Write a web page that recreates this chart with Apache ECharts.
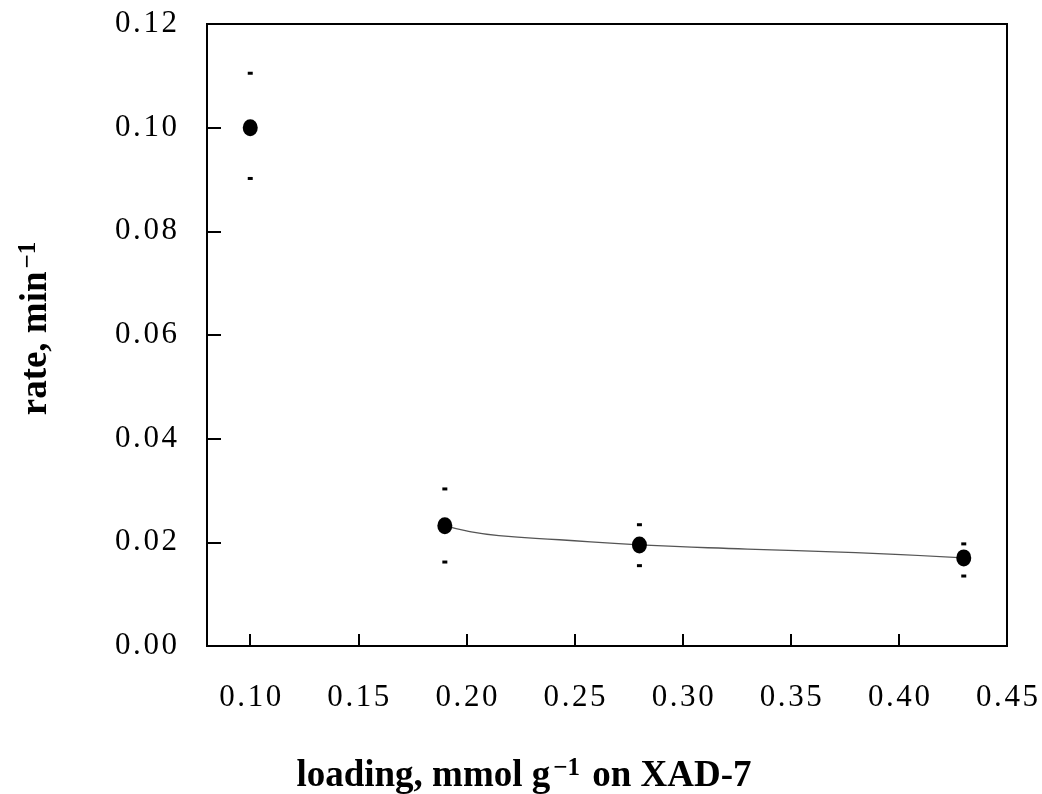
<!DOCTYPE html>
<html>
<head>
<meta charset="utf-8">
<script src="https://cdn.jsdelivr.net/npm/echarts@6/dist/echarts.min.js"></script>
<style>html,body{margin:0;padding:0;background:#fff}#c{width:1042px;height:794px}</style>
</head>
<body>
<div id="c"></div>
<script>
// data
var loading = [0.10, 0.19, 0.28, 0.43];
var rate = [0.1000, 0.0232, 0.0195, 0.0170];
var errHigh = [0.1105, 0.0303, 0.0234, 0.0197];
var errLow = [0.0902, 0.0162, 0.0155, 0.0135];
var fitX = [0.19, 0.20, 0.215, 0.243, 0.28, 0.33, 0.38, 0.43];
var fitY = [0.0232, 0.0222, 0.0213, 0.0205, 0.0195, 0.0187, 0.0180, 0.0170];
var xTicks = [0.10, 0.15, 0.20, 0.25, 0.30, 0.35, 0.40, 0.45];
var yTicks = [0.00, 0.02, 0.04, 0.06, 0.08, 0.10, 0.12];

var chart = echarts.init(document.getElementById('c'));
var serif = '"Liberation Serif", "Times New Roman", serif';
function pairs(xs, ys) { return xs.map(function (x, i) { return [x, ys[i]]; }); }
function fmt(v) { return v.toFixed(2).split('').join('\u200A'); }

chart.setOption({
  animation: false,
  backgroundColor: '#fff',
  grid: { left: 207, top: 24, right: 35, bottom: 148, containLabel: false, outerBoundsMode: 'none',
    show: true, borderColor: '#000', borderWidth: 2, backgroundColor: 'transparent' },
  xAxis: {
    type: 'value', min: 0.08, max: 0.45,
    axisLine: { show: true, onZero: false, lineStyle: { color: '#000', width: 2 } },
    axisTick: { show: true, inside: true, length: 12, lineStyle: { color: '#000', width: 2 }, customValues: xTicks },
    axisLabel: { customValues: xTicks, color: '#000', fontFamily: serif, fontSize: 31, margin: 36, formatter: fmt },
    splitLine: { show: false },
    name: '{t|loading, mmol g}{s|\u22121}{t| on XAD-7}',
    nameLocation: 'middle', nameGap: 110,
    nameTextStyle: { padding: [0, 166, 0, 0], rich: {
      t: { fontFamily: serif, fontWeight: 'bold', fontSize: 37, color: '#000' },
      s: { fontFamily: serif, fontWeight: 'bold', fontSize: 25, color: '#000', verticalAlign: 'top', padding: [0, 3, 16, 3] }
    } }
  },
  yAxis: {
    type: 'value', min: 0, max: 0.12, interval: 0.02,
    axisLine: { show: true, lineStyle: { color: '#000', width: 2 } },
    axisTick: { show: true, inside: true, length: 14, lineStyle: { color: '#000', width: 2 } },
    axisLabel: { color: '#000', fontFamily: serif, fontSize: 31, margin: 30, formatter: fmt },
    splitLine: { show: false },
    name: '{t|rate, min}{s|\u22121}',
    nameLocation: 'middle', nameGap: 150,
    nameTextStyle: { padding: [0, 0, 0, 16], rich: {
      t: { fontFamily: serif, fontWeight: 'bold', fontSize: 37, color: '#000' },
      s: { fontFamily: serif, fontWeight: 'bold', fontSize: 25, color: '#000', verticalAlign: 'top', padding: [0, 3, 16, 3] }
    } }
  },
  series: [
    { type: 'line', data: pairs(fitX, fitY), smooth: true, showSymbol: false, symbol: 'none',
      lineStyle: { color: '#555', width: 1.3 }, z: 1 },
    { type: 'scatter', data: pairs(loading, errHigh), symbol: 'rect', symbolSize: [5, 3],
      itemStyle: { color: '#000', opacity: 1 }, z: 2 },
    { type: 'scatter', data: pairs(loading, errLow), symbol: 'rect', symbolSize: [5, 3],
      itemStyle: { color: '#000', opacity: 1 }, z: 2 },
    { type: 'scatter', data: pairs(loading, rate), symbol: 'circle', symbolSize: [15, 17],
      itemStyle: { color: '#000', opacity: 1 }, z: 3 }
  ]
});
</script>
</body>
</html>
